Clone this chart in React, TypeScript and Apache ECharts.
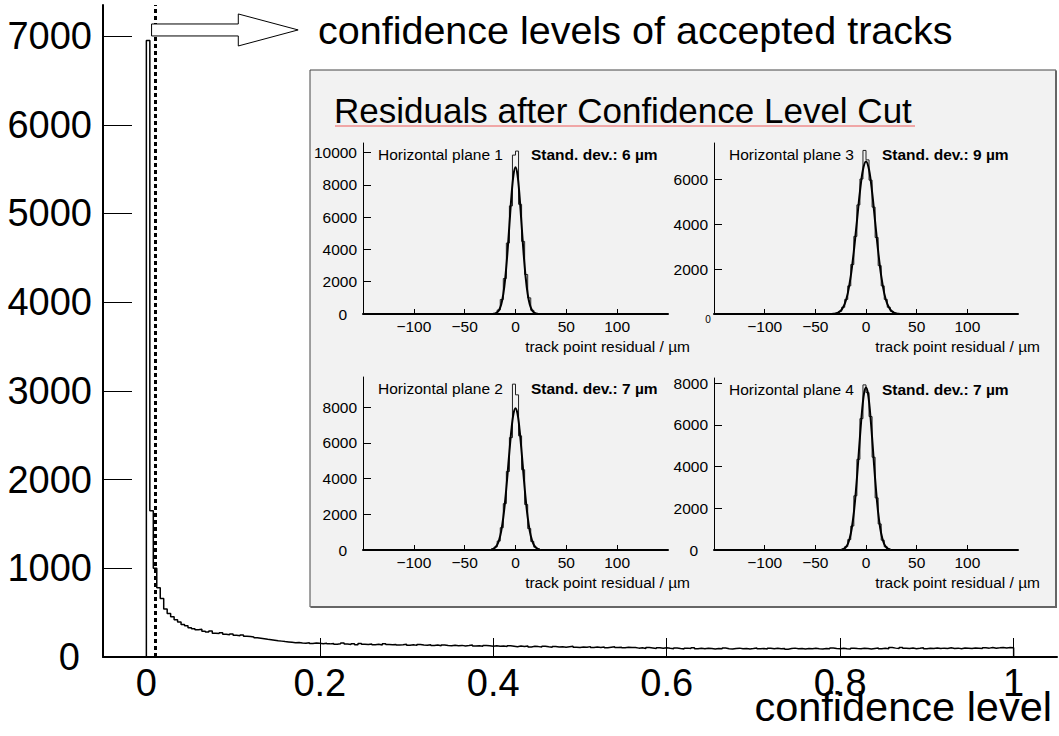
import React, { useEffect, useRef } from "react";
import * as echarts from "echarts";

const FONT = "'Liberation Sans', Arial, Helvetica, sans-serif";

// ---------- main histogram: confidence level ----------
const confBinStart = 0;
const confBinWidth = 0.004;
const confCounts = [
  6950, 1650, 1000, 780, 660, 540, 490, 455, 420, 395,
  365, 352, 330, 318, 306, 312, 290, 282, 294, 268,
  264, 272, 256, 250, 260, 245, 240, 248, 234, 230,
  226, 218, 212, 206, 200, 195, 190, 184, 179, 174,
  170, 165, 160, 164, 157, 155, 161, 152, 158, 154,
  150, 156, 148, 153, 145, 150, 158, 146, 142, 150,
  138, 152, 144, 140, 147, 139, 143, 136, 148, 140,
  137, 142, 134, 139, 145, 133, 138, 131, 140, 135,
  132, 138, 129, 134, 127, 136, 130, 126, 133, 128,
  131, 125, 129, 134, 124, 128, 122, 130, 126, 121,
  127, 120, 124, 118, 126, 121, 116, 123, 119, 125,
  114, 120, 117, 112, 121, 115, 110, 118, 113, 116,
  109, 115, 120, 111, 107, 114, 110, 117, 106, 112,
  108, 113, 104, 110, 115, 106, 111, 103, 109, 107,
  106, 100, 104, 97, 106, 101, 95, 103, 99, 105,
  98, 94, 102, 96, 91, 100, 95, 103, 93, 98,
  92, 99, 95, 90, 97, 93, 101, 94, 89, 96,
  100, 93, 97, 91, 95, 102, 92, 96, 90, 98,
  94, 99, 92, 96, 88, 95, 100, 93, 97, 91,
  96, 92, 99, 94, 90, 97, 93, 101, 95, 92,
  98, 94, 91, 100, 96, 93, 99, 95, 90, 97,
  102, 94, 98, 92, 106, 100, 95, 108, 99, 96,
  101, 94, 98, 104, 93, 99, 96, 102, 95, 100,
  97, 103, 96, 100, 94, 101, 98, 95, 102, 99,
  96, 104, 100, 106, 99, 103, 108, 101, 106, 104,
];
const confTicksX = [0, 0.2, 0.4, 0.6, 0.8, 1];
const confTicksY = [0, 1000, 2000, 3000, 4000, 5000, 6000, 7000];
const confXMin = -0.05;
const confXMax = 1.05;
const confYMax = 7350;
const cutValue = 0.006;

const mainNote = "confidence levels of accepted tracks";
const mainXTitle = "confidence level";
const insetTitle = "Residuals after Confidence Level Cut";

// ---------- inset: residual histograms ----------
const residualBinWidth = 3;
const residualTicksX = [-100, -50, 0, 50, 100];
const residualTicksY = [0, 2000, 4000, 6000, 8000, 10000];
const residualTitle = "track point residual / µm";

const planeNames = ["Horizontal plane 1", "Horizontal plane 2", "Horizontal plane 3", "Horizontal plane 4"];
const planeStdDevs = [6, 7, 9, 7];
const planeYMax = [10600, 9700, 7600, 8250];

const plane1Start = -21;
const plane1Counts = [40, 250, 900, 2200, 4400, 6700, 9850, 10100, 6800, 4500, 2450, 1000, 230, 40];
const plane2Start = -24;
const plane2Counts = [45, 170, 500, 1250, 2600, 4400, 6300, 9300, 8700, 6400, 4500, 2550, 1200, 480, 160, 45];
const plane3Start = -30;
const plane3Counts = [40, 120, 300, 650, 1250, 2200, 3450, 4850, 6000, 7270, 6850, 5950, 4750, 3400, 2150, 1250, 650, 300, 120, 40];
const plane4Start = -24;
const plane4Counts = [40, 160, 500, 1150, 2600, 4350, 6300, 7920, 7550, 6400, 4450, 2500, 1250, 470, 150, 45];

const plane1FitX = [-22, -20, -18, -16, -14, -12, -10, -8, -6, -4, -2, 0, 2, 4, 6, 8, 10, 12, 14, 16, 18, 20, 22];
const plane1FitY = [11, 35, 101, 260, 598, 1230, 2270, 3740, 5520, 7290, 8610, 9100, 8610, 7290, 5520, 3740, 2270, 1230, 598, 260, 101, 35, 11];
const plane2FitX = [-24, -22, -20, -18, -16, -14, -12, -10, -8, -6, -4, -2, 0, 2, 4, 6, 8, 10, 12, 14, 16, 18, 20, 22, 24];
const plane2FitY = [22, 57, 134, 292, 584, 1076, 1830, 2865, 4140, 5510, 6750, 7630, 7950, 7630, 6750, 5510, 4140, 2865, 1830, 1076, 584, 292, 134, 57, 22];
const plane3FitX = [-33, -30, -27, -24, -21, -18, -15, -12, -9, -6, -3, 0, 3, 6, 9, 12, 15, 18, 21, 24, 27, 30, 33];
const plane3FitY = [8, 26, 75, 194, 446, 918, 1690, 2790, 4110, 5430, 6410, 6780, 6410, 5430, 4110, 2790, 1690, 918, 446, 194, 75, 26, 8];
const plane4FitX = [-24, -22, -20, -18, -16, -14, -12, -10, -8, -6, -4, -2, 0, 2, 4, 6, 8, 10, 12, 14, 16, 18, 20, 22, 24];
const plane4FitY = [22, 56, 132, 286, 573, 1055, 1790, 2810, 4060, 5400, 6620, 7490, 7800, 7490, 6620, 5400, 4060, 2810, 1790, 1055, 573, 286, 132, 56, 22];

const planeStarts = [plane1Start, plane2Start, plane3Start, plane4Start];
const planeCounts = [plane1Counts, plane2Counts, plane3Counts, plane4Counts];
const planeFitX = [plane1FitX, plane2FitX, plane3FitX, plane4FitX];
const planeFitY = [plane1FitY, plane2FitY, plane3FitY, plane4FitY];

function stepPoints(start: number, width: number, counts: number[]) {
  const pts: number[][] = [[start, 0]];
  counts.forEach((c, i) => {
    pts.push([start + i * width, c]);
    pts.push([start + (i + 1) * width, c]);
  });
  pts.push([start + counts.length * width, 0]);
  return pts;
}

const minus = (v: number) => (v < 0 ? "\u2212" + Math.abs(v) : String(v));

export default function App() {
  const ref = useRef<HTMLDivElement>(null);

  useEffect(() => {
    if (!ref.current) return;
    const chart = echarts.init(ref.current, undefined, { renderer: "svg" });

    // layout
    const mainGrid = { left: 103, top: 5, right: 2, bottom: 736 - 657 };
    const panelGrids = [
      { left: 363, top: 143, width: 305, height: 171 },
      { left: 363, top: 377, width: 305, height: 173 },
      { left: 714, top: 143, width: 304, height: 171 },
      { left: 714, top: 378, width: 304, height: 172 },
    ];

    const grids: any[] = [mainGrid, ...panelGrids].map((g) => ({ ...g, containLabel: false, show: false }));

    const xAxes: any[] = [
      {
        type: "value",
        gridIndex: 0,
        min: confXMin,
        max: confXMax,
        axisLine: { show: true, onZero: false, lineStyle: { color: "#000", width: 2 } },
        axisTick: { show: true, inside: true, length: 19, customValues: confTicksX, lineStyle: { color: "#000", width: 1 } },
        axisLabel: {
          show: true,
          customValues: confTicksX,
          margin: 7,
          fontSize: 38,
          fontFamily: FONT,
          color: "#000",
          formatter: (v: number) => String(v),
        },
        splitLine: { show: false },
      },
    ];
    const yAxes: any[] = [
      {
        type: "value",
        gridIndex: 0,
        min: 0,
        max: confYMax,
        axisLine: { show: true, onZero: false, lineStyle: { color: "#000", width: 2 } },
        axisTick: { show: true, inside: true, length: 29, customValues: confTicksY, lineStyle: { color: "#000", width: 1 } },
        axisLabel: {
          show: true,
          customValues: confTicksY,
          margin: 11,
          fontSize: 38,
          fontFamily: FONT,
          color: "#000",
          formatter: (v: number) => (v === 0 ? "{z|0}" : String(v)),
          rich: { z: { fontSize: 38, fontFamily: FONT, color: "#000", padding: [0, 12, 0, 0] } },
        },
        splitLine: { show: false },
      },
    ];

    const series: any[] = [
      {
        type: "line",
        xAxisIndex: 0,
        yAxisIndex: 0,
        data: stepPoints(confBinStart, confBinWidth, confCounts),
        showSymbol: false,
        symbol: "none",
        lineStyle: { color: "#000", width: 1.5 },
        silent: true,
        z: 3,
        markLine: {
          silent: true,
          symbol: ["none", "none"],
          label: { show: false },
          lineStyle: { color: "#000", width: 3, type: [4, 3] },
          data: [{ xAxis: cutValue }],
        },
      },
    ];

    planeNames.forEach((_, k) => {
      const gi = k + 1;
      const yTicks = residualTicksY.filter((t) => t <= planeYMax[k]);
      xAxes.push({
        type: "value",
        gridIndex: gi,
        min: -150,
        max: 150,
        axisLine: { show: true, onZero: false, lineStyle: { color: "#000", width: 2 } },
        axisTick: { show: true, inside: true, length: 5, customValues: residualTicksX, lineStyle: { color: "#000", width: 1 } },
        axisLabel: {
          show: true,
          customValues: residualTicksX,
          margin: 4,
          fontSize: 15.5,
          fontFamily: FONT,
          color: "#000",
          formatter: minus,
        },
        splitLine: { show: false },
      });
      yAxes.push({
        type: "value",
        gridIndex: gi,
        min: 0,
        max: planeYMax[k],
        axisLine: { show: true, onZero: false, lineStyle: { color: "#000", width: 1 } },
        axisTick: { show: true, inside: true, length: 8, customValues: yTicks, lineStyle: { color: "#000", width: 1 } },
        axisLabel: {
          show: true,
          customValues: yTicks,
          margin: 6,
          fontSize: 15.5,
          fontFamily: FONT,
          color: "#000",
          formatter: (v: number) => (v === 0 ? (k === 2 ? "" : "{z|0}") : String(v)),
          rich: { z: { fontSize: 15.5, fontFamily: FONT, color: "#000", padding: [0, 10, 0, 0] } },
        },
        splitLine: { show: false },
      });
      series.push({
        type: "line",
        xAxisIndex: gi,
        yAxisIndex: gi,
        data: stepPoints(planeStarts[k], residualBinWidth, planeCounts[k]),
        symbol: "none",
        showSymbol: false,
        lineStyle: { color: "#222", width: 1 },
        silent: true,
        z: 3,
      });
      series.push({
        type: "line",
        xAxisIndex: gi,
        yAxisIndex: gi,
        data: planeFitX[k].map((x, i) => [x, planeFitY[k][i]]),
        symbol: "none",
        showSymbol: false,
        smooth: 0.35,
        lineStyle: { color: "#000", width: 2 },
        silent: true,
        z: 4,
      });
    });

    chart.setOption({
      animation: false,
      backgroundColor: "#fff",
      grid: grids,
      xAxis: xAxes,
      yAxis: yAxes,
      series,
    });

    const px = (idx: number, pt: number[]) =>
      chart.convertToPixel({ xAxisIndex: idx, yAxisIndex: idx }, pt) as number[];

    const txt = (x: number, y: number, text: string, size: number, align: string, weight = "normal", extra: any = {}) => ({
      type: "text",
      x,
      y,
      z: 20,
      style: {
        text,
        fontSize: size,
        fontFamily: FONT,
        fontWeight: weight,
        fill: "#000",
        textAlign: align,
        textVerticalAlign: "middle",
        verticalAlign: "middle",
        ...extra,
      },
    });

    // arrow from cut line
    const shaftEnd = 0.106;
    const tipX = 0.175;
    const arrowPts = [
      px(0, [cutValue, 7136]),
      px(0, [shaftEnd, 7136]),
      px(0, [shaftEnd, 7249]),
      px(0, [tipX, 7069]),
      px(0, [shaftEnd, 6888]),
      px(0, [shaftEnd, 7001]),
      px(0, [cutValue, 7001]),
    ];

    const elements: any[] = [
      {
        type: "rect",
        z: -1,
        shape: { x: 310, y: 70, width: 746, height: 537 },
        style: { fill: "#f2f2f2", stroke: "#444", lineWidth: 1 },
      },
      { type: "line", z: -1, shape: { x1: 311, y1: 607, x2: 1057, y2: 607 }, style: { stroke: "#666", lineWidth: 2 } },
      { type: "line", z: -1, shape: { x1: 1056, y1: 71, x2: 1056, y2: 608 }, style: { stroke: "#666", lineWidth: 2 } },
      txt(334, 110, insetTitle, 35, "left"),
      { type: "line", z: 20, shape: { x1: 335, y1: 126, x2: 915, y2: 126 }, style: { stroke: "#ee5a5a", lineWidth: 1.2 } },
      { type: "polygon", z: 20, shape: { points: arrowPts }, style: { fill: "#fff", stroke: "#000", lineWidth: 1 } },
      txt(318, 30, mainNote, 39.5, "left"),
      txt(1052, 706, mainXTitle, 41.5, "right"),
    ];

    panelGrids.forEach((g, k) => {
      elements.push(txt(g.left + 15, g.top + 11, planeNames[k], 15.5, "left"));
      elements.push(txt(g.left + 168, g.top + 11, `Stand. dev.: ${planeStdDevs[k]} µm`, 15.5, "left", "bold"));
      elements.push(txt(g.left + g.width + 22, g.top + g.height + 32, residualTitle, 15.5, "right"));
    });
    const zero3 = px(3, [-150, 0]);
    elements.push(txt(zero3[0] - 6, zero3[1] + 5, "0", 10, "center"));

    chart.setOption({ graphic: { elements } });

    return () => chart.dispose();
  }, []);

  return (
    <div
      ref={ref}
      style={{ position: "absolute", left: 0, top: 0, width: 1059, height: 736, background: "#fff" }}
    />
  );
}
